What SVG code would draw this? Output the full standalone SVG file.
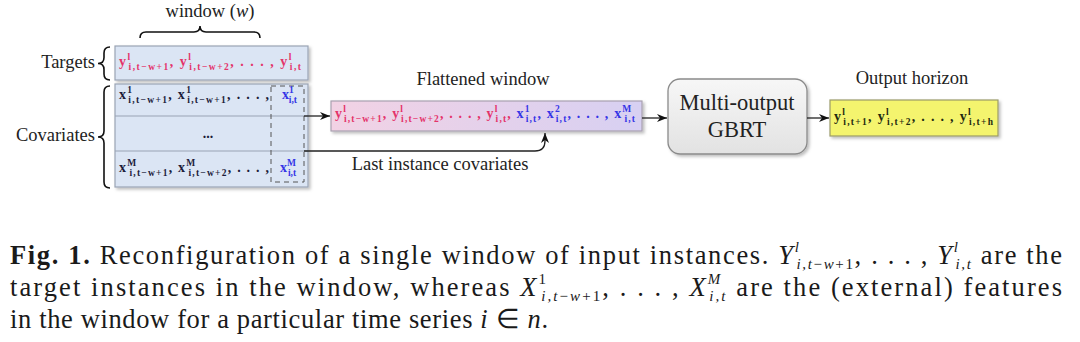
<svg xmlns="http://www.w3.org/2000/svg" width="1080" height="342" viewBox="0 0 1080 342">
<style>
.lbl{font-family:"Liberation Serif",serif;font-size:18.5px;fill:#222}
.f{font-family:"Liberation Serif",serif;font-size:14px;font-weight:bold}
.s{font-size:9.5px}
.pk{fill:#e4336a}
.bl{fill:#3535e6}
.nv{fill:#1c1c3a}
.gb{fill:#1f2a10}
.cap{font-family:"Liberation Serif",serif;font-size:26.5px;fill:#1a1a1a}
.cs{font-size:15px}
.it{font-style:italic}
.ln{stroke:#222;stroke-width:1.3;fill:none}
.br{stroke:#111;stroke-width:1.6;fill:none}
</style>
<defs>
<marker id="ah" markerWidth="10" markerHeight="8" refX="10" refY="4" orient="auto" markerUnits="userSpaceOnUse">
<path d="M0,0 L10,4 L0,8 L3,4 z" fill="#111"/>
</marker>
<linearGradient id="flat" x1="0" y1="0" x2="1" y2="0">
<stop offset="0" stop-color="#f2d2e4"/>
<stop offset="1" stop-color="#d7d0f2"/>
</linearGradient>
<linearGradient id="gray" x1="0" y1="0" x2="0" y2="1">
<stop offset="0" stop-color="#f7f7f7"/>
<stop offset="1" stop-color="#e2e2e2"/>
</linearGradient>
<filter id="sh" x="-10%" y="-20%" width="120%" height="140%">
<feDropShadow dx="2" dy="2" stdDeviation="1.5" flood-color="#000" flood-opacity="0.25"/>
</filter>
</defs>

<g id="window-brace">
<text class="lbl" x="210" y="17" text-anchor="middle">window (<tspan class="it">w</tspan>)</text>
<path class="br" d="M140,38 Q140,32 146,32 L194,32 Q200,32 200,26 Q200,32 206,32 L254,32 Q260,32 260,38"/>
</g>

<g id="targets">
<text class="lbl" x="95" y="68" text-anchor="end">Targets</text>
<path class="br" d="M110,47 Q104,47 104,53 L104,57.5 Q104,63.5 98,63.5 Q104,63.5 104,69.5 L104,74 Q104,80 110,80"/>
</g>

<g id="covariates">
<text class="lbl" x="95" y="141" text-anchor="end">Covariates</text>
<path class="br" d="M110,86 Q104,86 104,92 L104,131 Q104,137 98,137 Q104,137 104,143 L104,182 Q104,188 110,188"/>
</g>

<g id="input-window">
<rect x="115" y="46" width="193" height="34" fill="#dbe5f4" stroke="#9aa4b4" stroke-width="1.2" filter="url(#sh)"/>
<rect x="115" y="84" width="193" height="103" fill="#dbe5f4" stroke="#9aa4b4" stroke-width="1.2" filter="url(#sh)"/>
<line x1="115" y1="116" x2="308" y2="116" stroke="#9aa4b4" stroke-width="1.2"/>
<line x1="115" y1="151" x2="308" y2="151" stroke="#9aa4b4" stroke-width="1.2"/>
<rect x="271" y="86" width="33" height="96" fill="none" stroke="#555" stroke-width="1" stroke-dasharray="5,4"/>
<text class="f pk" x="119" y="66" textLength="182" lengthAdjust="spacing">y<tspan class="s" dy="-6">l</tspan><tspan class="s" dx="-3" dy="10">i,t−w+1</tspan><tspan dy="-4">, y</tspan><tspan class="s" dy="-6">l</tspan><tspan class="s" dx="-3" dy="10">i,t−w+2</tspan><tspan dy="-4">, . . . , y</tspan><tspan class="s" dy="-6">l</tspan><tspan class="s" dx="-3" dy="10">i,t</tspan></text>
<text class="f nv" x="119" y="99" textLength="150" lengthAdjust="spacing">x<tspan class="s" dy="-6">1</tspan><tspan class="s" dx="-5" dy="10">i,t−w+1</tspan><tspan dy="-4">, x</tspan><tspan class="s" dy="-6">1</tspan><tspan class="s" dx="-5" dy="10">i,t−w+1</tspan><tspan dy="-4">, . . . ,</tspan></text>
<text class="f bl" x="282" y="99">x<tspan class="s" dy="-6">1</tspan><tspan class="s" dx="-5" dy="10">i,t</tspan></text>
<text class="f nv" x="208" y="138" text-anchor="middle">...</text>
<text class="f nv" x="119" y="172" textLength="150" lengthAdjust="spacing">x<tspan class="s" dy="-6">M</tspan><tspan class="s" dx="-8" dy="10">i,t−w+1</tspan><tspan dy="-4">, x</tspan><tspan class="s" dy="-6">M</tspan><tspan class="s" dx="-8" dy="10">i,t−w+2</tspan><tspan dy="-4">, . . . ,</tspan></text>
<text class="f bl" x="280" y="172">x<tspan class="s" dy="-6">M</tspan><tspan class="s" dx="-8" dy="10">i,t</tspan></text>
</g>

<g id="flattened">
<text class="lbl" x="483" y="85" text-anchor="middle">Flattened window</text>
<rect x="331" y="101" width="311" height="30" fill="url(#flat)" stroke="#a8a0b0" stroke-width="1.2" filter="url(#sh)"/>
<text class="f" x="335" y="118" textLength="300" lengthAdjust="spacing"><tspan class="pk">y</tspan><tspan class="s pk" dy="-6">l</tspan><tspan class="s pk" dx="-3" dy="10">i,t−w+1</tspan><tspan class="pk" dy="-4">, y</tspan><tspan class="s pk" dy="-6">l</tspan><tspan class="s pk" dx="-3" dy="10">i,t−w+2</tspan><tspan class="pk" dy="-4">, . . . , y</tspan><tspan class="s pk" dy="-6">l</tspan><tspan class="s pk" dx="-3" dy="10">i,t</tspan><tspan class="pk" dy="-4">, </tspan><tspan class="bl">x</tspan><tspan class="s bl" dy="-6">1</tspan><tspan class="s bl" dx="-5" dy="10">i,t</tspan><tspan class="bl" dy="-4">, x</tspan><tspan class="s bl" dy="-6">2</tspan><tspan class="s bl" dx="-5" dy="10">i,t</tspan><tspan class="bl" dy="-4">, . . . , x</tspan><tspan class="s bl" dy="-6">M</tspan><tspan class="s bl" dx="-8" dy="10">i,t</tspan></text>
</g>

<g id="gbrt">
<rect x="668" y="79" width="139" height="75" rx="12" fill="url(#gray)" stroke="#8a8a8a" stroke-width="1.3" filter="url(#sh)"/>
<text class="lbl" x="737" y="110" text-anchor="middle" style="font-size:22.5px">Multi-output</text>
<text class="lbl" x="737" y="137" text-anchor="middle" style="font-size:22.5px">GBRT</text>
</g>

<g id="output">
<text class="lbl" x="912" y="84" text-anchor="middle">Output horizon</text>
<rect x="830" y="100" width="168" height="36" fill="#f4f46e" stroke="#9a9a6a" stroke-width="1.2" filter="url(#sh)"/>
<text class="f gb" x="834" y="121" textLength="159" lengthAdjust="spacing">y<tspan class="s" dy="-6">l</tspan><tspan class="s" dx="-3" dy="10">i,t+1</tspan><tspan dy="-4">, y</tspan><tspan class="s" dy="-6">l</tspan><tspan class="s" dx="-3" dy="10">i,t+2</tspan><tspan dy="-4">, . . . , y</tspan><tspan class="s" dy="-6">l</tspan><tspan class="s" dx="-3" dy="10">i,t+h</tspan></text>
</g>

<g id="connectors">
<path class="ln" d="M304,116 H330" marker-end="url(#ah)"/>
<path class="ln" d="M304,151 H535 Q545,151 545,141 V133" marker-end="url(#ah)"/>
<text class="lbl" x="440" y="170" text-anchor="middle">Last instance covariates</text>
<path class="ln" d="M642,118 H667" marker-end="url(#ah)"/>
<path class="ln" d="M807,118 H829" marker-end="url(#ah)"/>
</g>

<g id="caption">
<text class="cap" x="10" y="264" textLength="1052" lengthAdjust="spacing"><tspan font-weight="bold">Fig. 1.</tspan> Reconfiguration of a single window of input instances. <tspan class="it">Y</tspan><tspan class="cs it" dy="-12">l</tspan><tspan class="cs it" dx="-4" dy="17">i,t</tspan><tspan class="cs">−</tspan><tspan class="cs it">w</tspan><tspan class="cs">+1</tspan><tspan dy="-5">, . . . , </tspan><tspan class="it">Y</tspan><tspan class="cs it" dy="-12">l</tspan><tspan class="cs it" dx="-4" dy="17">i,t</tspan><tspan dy="-5"> are the</tspan></text>
<text class="cap" x="10" y="296" textLength="1052" lengthAdjust="spacing">target instances in the window, whereas <tspan class="it">X</tspan><tspan class="cs" dy="-12">1</tspan><tspan class="cs it" dx="-7" dy="17">i,t</tspan><tspan class="cs">−</tspan><tspan class="cs it">w</tspan><tspan class="cs">+1</tspan><tspan dy="-5">, . . . , </tspan><tspan class="it">X</tspan><tspan class="cs it" dy="-12">M</tspan><tspan class="cs it" dx="-13" dy="17">i,t</tspan><tspan dy="-5">  are the (external) features</tspan></text>
<text class="cap" x="10" y="328" textLength="538" lengthAdjust="spacing">in the window for a particular time series <tspan class="it">i</tspan> ∈ <tspan class="it">n</tspan>.</text>
</g>
</svg>
